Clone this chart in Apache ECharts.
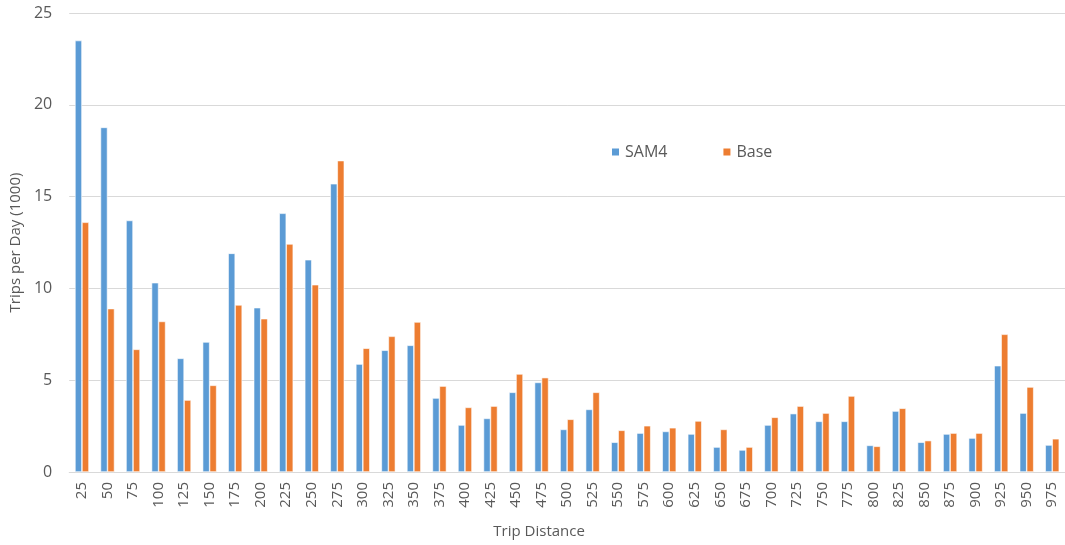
<!DOCTYPE html>
<html lang="en">
<head>
<meta charset="utf-8">
<title>Trips per Day by Trip Distance</title>
<script src="https://cdn.jsdelivr.net/npm/echarts@6/dist/echarts.min.js"></script>
<style>
  html, body { margin: 0; padding: 0; background: #fff; }
  #chart { width: 1065px; height: 545px; }
</style>
</head>
<body>
<div id="chart"></div>
<script>
// trip distance bins
var distances = ['25','50','75','100','125','150','175','200','225','250','275','300','325',
  '350','375','400','425','450','475','500','525','550','575','600','625','650',
  '675','700','725','750','775','800','825','850','875','900','925','950','975'];

// trips per day (1000)
var sam4 = [23.5, 18.77, 13.7, 10.31, 6.19, 7.08, 11.91, 8.95, 14.09, 11.56, 15.7, 5.88, 6.63,
  6.9, 4.03, 2.56, 2.92, 4.34, 4.88, 2.32, 3.41, 1.62, 2.12, 2.21, 2.07, 1.36,
  1.2, 2.56, 3.18, 2.76, 2.76, 1.45, 3.32, 1.62, 2.07, 1.85, 5.79, 3.21, 1.47];
var base = [13.6, 8.9, 6.68, 8.2, 3.92, 4.72, 9.1, 8.35, 12.42, 10.2, 16.96, 6.74, 7.39,
  8.17, 4.68, 3.52, 3.59, 5.34, 5.14, 2.87, 4.34, 2.27, 2.52, 2.41, 2.78, 2.32,
  1.36, 2.98, 3.59, 3.21, 4.14, 1.4, 3.47, 1.71, 2.12, 2.12, 7.5, 4.63, 1.81];

var yTicks = [0, 5, 10, 15, 20, 25];

var chart = echarts.init(document.getElementById('chart'));
var font = 'Open Sans, Liberation Sans, sans-serif';

chart.setOption({
  animation: false,
  textStyle: { fontFamily: font },
  grid: { left: 69, right: 0, top: 13, bottom: 73 },
  legend: {
    left: 605, top: 139,
    itemWidth: 9, itemHeight: 9, itemGap: 54,
    icon: 'rect',
    textStyle: { color: '#595959', fontSize: 16, fontFamily: font },
    data: ['SAM4', 'Base']
  },
  xAxis: {
    type: 'category',
    data: distances,
    name: 'Trip Distance',
    nameLocation: 'middle',
    nameGap: 52,
    nameTextStyle: { color: '#595959', fontSize: 15, padding: [0, 56, 0, 0] },
    axisLine: { lineStyle: { color: '#d9d9d9', width: 1 } },
    axisTick: { show: false },
    axisLabel: { rotate: 90, interval: 0, color: '#595959', fontSize: 15, margin: 10 }
  },
  yAxis: {
    type: 'value',
    min: yTicks[0], max: yTicks[yTicks.length - 1], interval: 5,
    name: 'Trips per Day (1000)',
    nameLocation: 'middle',
    nameRotate: 90,
    nameGap: 45,
    nameTextStyle: { color: '#595959', fontSize: 15 },
    axisLine: { show: false },
    axisTick: { show: false },
    axisLabel: { color: '#595959', fontSize: 16, margin: 17 },
    splitLine: { lineStyle: { color: '#d9d9d9', width: 1 } }
  },
  series: [
    {
      name: 'SAM4', type: 'bar', data: sam4,
      barWidth: 7, barGap: '0%',
      itemStyle: { color: '#5b9bd5', borderColor: '#fff', borderWidth: 0.6 }
    },
    {
      name: 'Base', type: 'bar', data: base,
      barWidth: 7,
      itemStyle: { color: '#ed7d31', borderColor: '#fff', borderWidth: 0.6 }
    }
  ]
});
</script>
</body>
</html>
